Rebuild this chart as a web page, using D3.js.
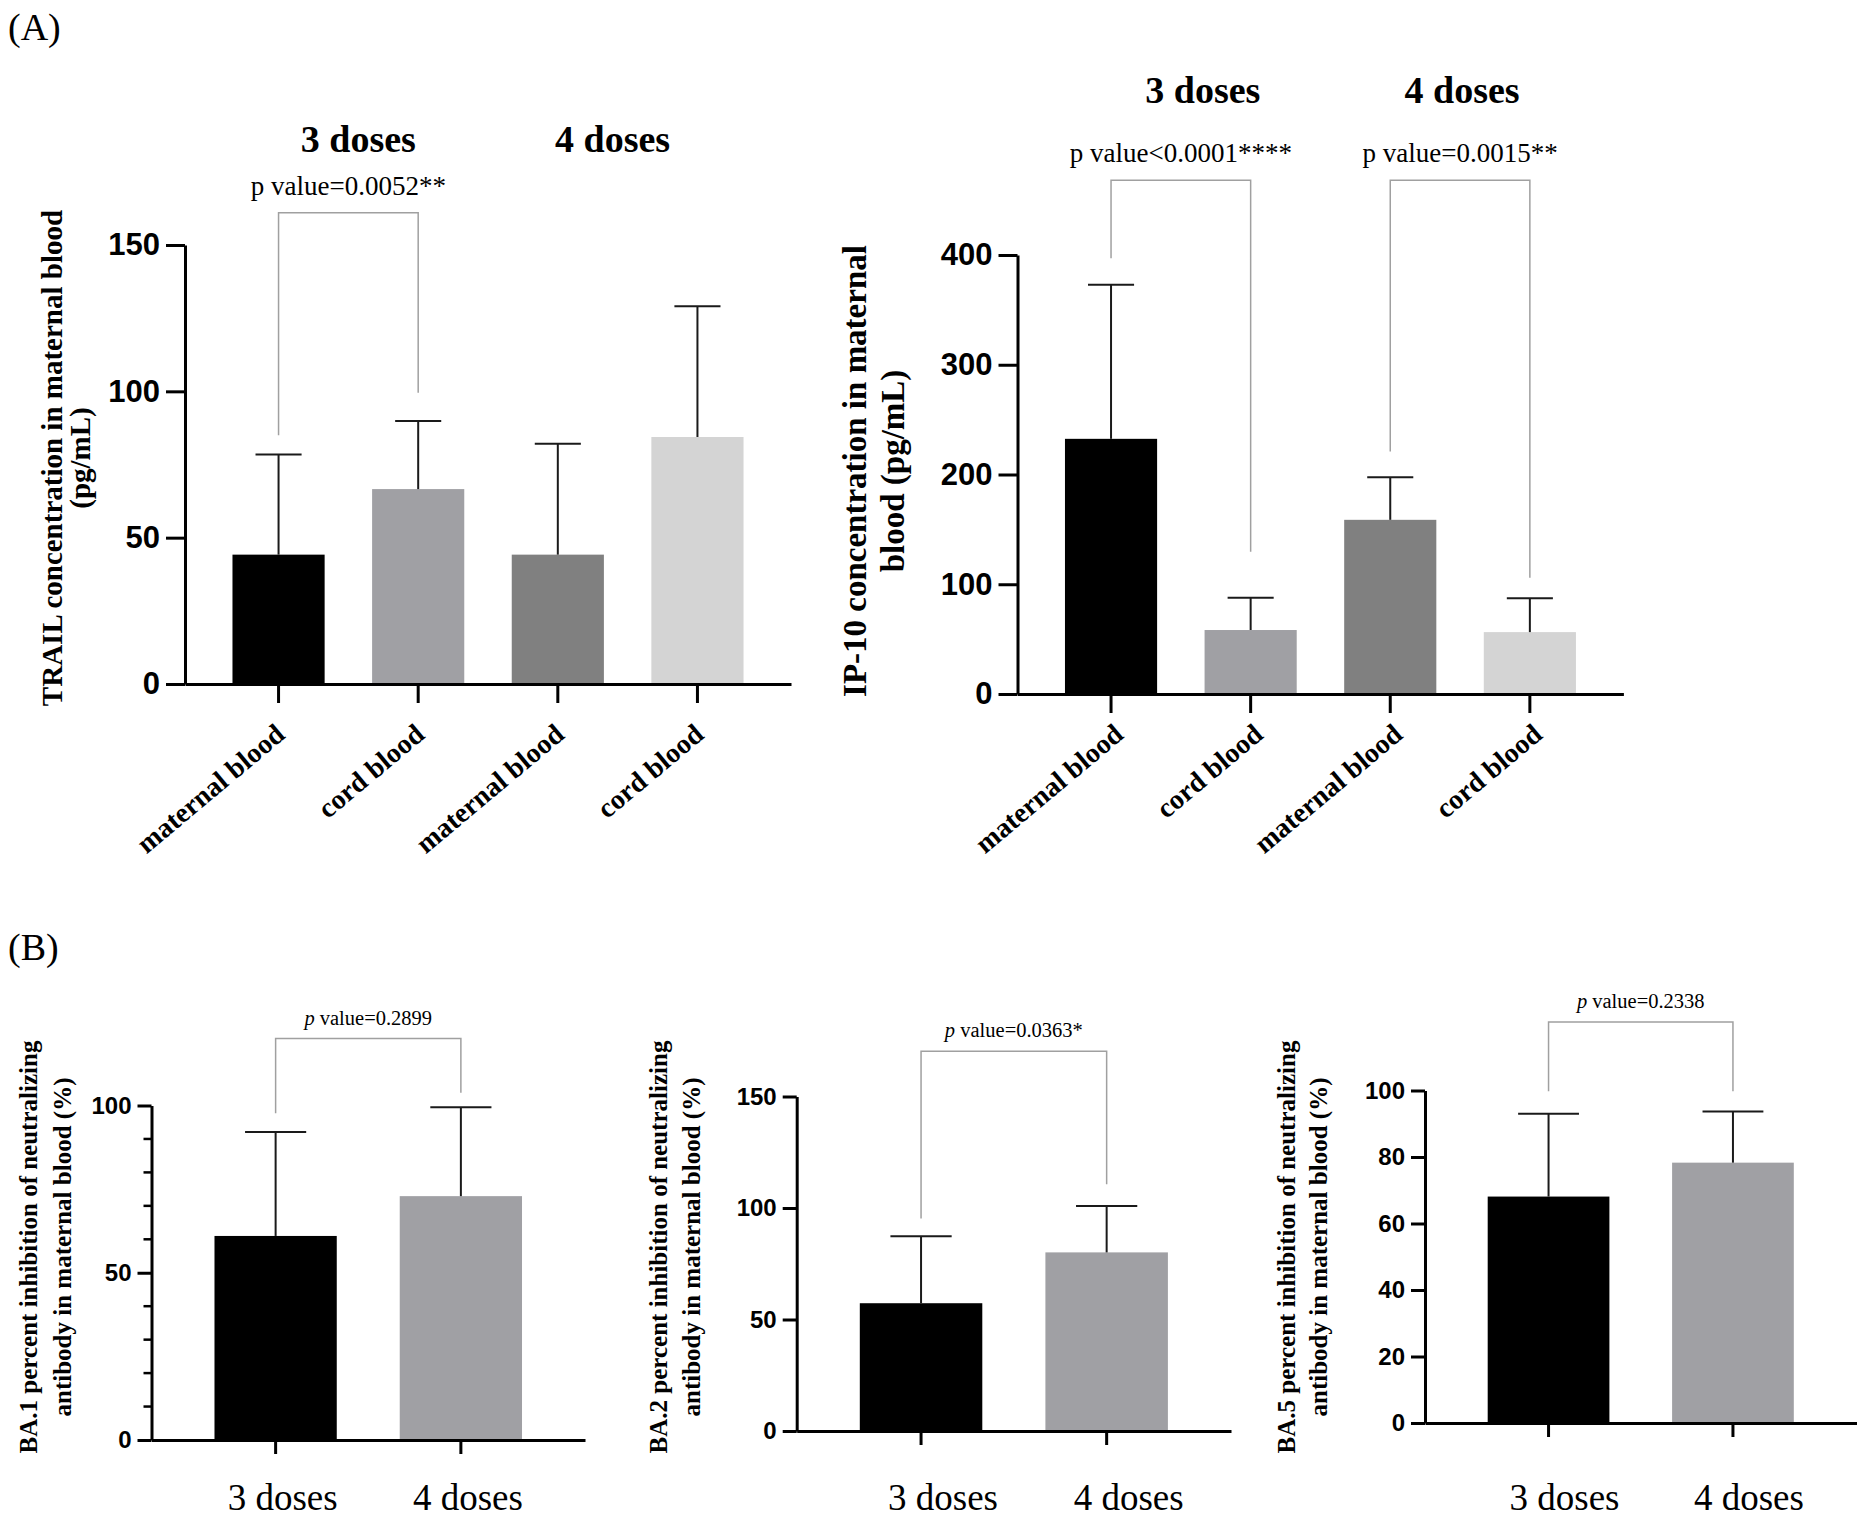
<!DOCTYPE html>
<html>
<head>
<meta charset="utf-8">
<script src="https://cdn.jsdelivr.net/npm/d3@7"></script>
<style>
  body { margin: 0; background: #fff; }
  svg { display: block; }
</style>
</head>
<body>
<div id="chart"></div>
<script>
// ---- data ----
const aCategories = ['maternal blood', 'cord blood', 'maternal blood', 'cord blood'];
const doseGroups = ['3 doses', '4 doses'];
const aColors = ['#000000', '#a0a0a4', '#808080', '#d4d4d4'];
const bColors = ['#000000', '#a0a0a4'];

const trailMeans = [44.2, 66.6, 44.2, 84.4];
const trailSD = [34.2, 23.3, 37.9, 44.7];
const trailTicks = [0, 50, 100, 150];

const ip10Means = [232.5, 58.3, 158.7, 56.4];
const ip10SD = [140.5, 29.4, 38.7, 30.8];
const ip10Ticks = [0, 100, 200, 300, 400];

const ba1Means = [61.0, 72.9];
const ba1SD = [31.1, 26.6];
const ba1Ticks = [0, 50, 100];
const ba1Minor = [10, 20, 30, 40, 60, 70, 80, 90];

const ba2Means = [57.3, 80.1];
const ba2SD = [30.0, 20.8];
const ba2Ticks = [0, 50, 100, 150];

const ba5Means = [68.1, 78.3];
const ba5SD = [24.9, 15.4];
const ba5Ticks = [0, 20, 40, 60, 80, 100];

// brackets: bar a -> bar b, top value, leg end values, label
const trailBrackets = [{ a: 0, b: 1, top: 161, legA: 85, legB: 99.5, p: 'p value=0.0052**' }];
const ip10Brackets = [
    { a: 0, b: 1, top: 468, legA: 397, legB: 129.5, p: 'p value<0.0001****' },
    { a: 2, b: 3, top: 468, legA: 221, legB: 106, p: 'p value=0.0015**' }
];
const ba1Brackets = [{ a: 0, b: 1, top: 120, legA: 97.7, legB: 103.8, p: ' value=0.2899' }];
const ba2Brackets = [{ a: 0, b: 1, top: 170.3, legA: 95.3, legB: 110.6, p: ' value=0.0363*' }];
const ba5Brackets = [{ a: 0, b: 1, top: 120.6, legA: 99.8, legB: 99.8, p: ' value=0.2338' }];

const SERIF = '"Liberation Serif", "Times New Roman", serif';
const SANS = '"Liberation Sans", Arial, sans-serif';

const svg = d3.select('#chart').append('svg')
    .attr('width', 1871)
    .attr('height', 1525);

svg.append('rect').attr('width', 1871).attr('height', 1525).attr('fill', '#fff');

function drawChart(cfg) {
    const g = svg.append('g');
    const n = cfg.means.length;

    const x = d3.scaleBand()
        .domain(d3.range(n))
        .range([cfg.left, cfg.right])
        .paddingInner(0.34)
        .paddingOuter(0.34);
    const y = d3.scaleLinear()
        .domain([0, cfg.max])
        .range([cfg.bottom, cfg.top]);
    const cx = i => x(i) + x.bandwidth() / 2;

    // bars
    g.selectAll('rect.bar')
        .data(cfg.means)
        .join('rect')
        .attr('class', 'bar')
        .attr('x', (d, i) => x(i))
        .attr('y', d => y(d))
        .attr('width', x.bandwidth())
        .attr('height', d => y(0) - y(d))
        .attr('fill', (d, i) => cfg.colors[i]);

    // error bars (upper only)
    const eb = g.selectAll('g.err')
        .data(cfg.means.map((m, i) => ({ m, sd: cfg.sd[i], i })))
        .join('g')
        .attr('class', 'err')
        .attr('stroke', '#1a1a1a')
        .attr('stroke-width', 2);
    eb.append('line')
        .attr('x1', d => cx(d.i)).attr('x2', d => cx(d.i))
        .attr('y1', d => y(d.m)).attr('y2', d => y(d.m + d.sd));
    eb.append('line')
        .attr('x1', d => cx(d.i) - x.bandwidth() / 4).attr('x2', d => cx(d.i) + x.bandwidth() / 4)
        .attr('y1', d => y(d.m + d.sd)).attr('y2', d => y(d.m + d.sd));

    // y axis
    const yAxis = d3.axisLeft(y)
        .tickValues(cfg.ticks)
        .tickSize(cfg.tickLen)
        .tickSizeOuter(0)
        .tickPadding(6);
    const ya = g.append('g')
        .attr('transform', `translate(${cfg.left},0)`)
        .call(yAxis);
    ya.select('.domain').attr('stroke', '#000').attr('stroke-width', 3);
    ya.selectAll('.tick line').attr('stroke', '#000').attr('stroke-width', 3);
    ya.selectAll('.tick text')
        .attr('fill', '#000')
        .attr('font-family', SANS)
        .attr('font-weight', 'bold')
        .attr('font-size', cfg.tickFont);

    if (cfg.minor) {
        g.selectAll('line.minor')
            .data(cfg.minor)
            .join('line')
            .attr('class', 'minor')
            .attr('x1', cfg.left - 8).attr('x2', cfg.left)
            .attr('y1', d => y(d)).attr('y2', d => y(d))
            .attr('stroke', '#000').attr('stroke-width', 2.5);
    }

    // x axis
    const xAxis = d3.axisBottom(x)
        .tickSize(cfg.tickLen)
        .tickSizeOuter(0)
        .tickFormat('');
    const xa = g.append('g')
        .attr('transform', `translate(0,${y(0)})`)
        .call(xAxis);
    xa.select('.domain').attr('stroke', '#000').attr('stroke-width', 3);
    xa.selectAll('.tick line').attr('stroke', '#000').attr('stroke-width', 3);

    // category labels
    if (cfg.rotated) {
        g.selectAll('text.cat')
            .data(cfg.categories)
            .join('text')
            .attr('class', 'cat')
            .attr('transform', (d, i) => `translate(${cx(i) + cfg.catDx},${y(0) + cfg.catDy}) rotate(-40)`)
            .attr('text-anchor', 'end')
            .attr('font-family', SERIF)
            .attr('font-weight', 'bold')
            .attr('font-size', cfg.catFont)
            .text(d => d);
    } else {
        g.selectAll('text.cat')
            .data(cfg.categories)
            .join('text')
            .attr('class', 'cat')
            .attr('x', (d, i) => cx(i) + cfg.catDx)
            .attr('y', cfg.catY)
            .attr('text-anchor', 'middle')
            .attr('font-family', SERIF)
            .attr('font-size', cfg.catFont)
            .text(d => d);
    }

    // y title (two lines, rotated)
    cfg.title.forEach((line, k) => {
        g.append('text')
            .attr('transform', `translate(${cfg.titleX[k]},${cfg.titleY}) rotate(-90)`)
            .attr('text-anchor', 'middle')
            .attr('font-family', SERIF)
            .attr('font-weight', 'bold')
            .attr('font-size', cfg.titleFont)
            .text(line);
    });

    // dose headers
    if (cfg.headers) {
        cfg.headers.forEach((h, k) => {
            g.append('text')
                .attr('x', (cx(2 * k) + cx(2 * k + 1)) / 2 + cfg.headerDx[k])
                .attr('y', cfg.headerY)
                .attr('text-anchor', 'middle')
                .attr('font-family', SERIF)
                .attr('font-weight', 'bold')
                .attr('font-size', 38)
                .text(h);
        });
    }

    // significance brackets
    cfg.brackets.forEach(b => {
        g.append('path')
            .attr('d', `M${cx(b.a)},${y(b.legA)}V${y(b.top)}H${cx(b.b)}V${y(b.legB)}`)
            .attr('fill', 'none')
            .attr('stroke', '#a0a0a0')
            .attr('stroke-width', 1.5);
        const t = g.append('text')
            .attr('x', (cx(b.a) + cx(b.b)) / 2)
            .attr('y', y(b.top) - cfg.pGap)
            .attr('text-anchor', 'middle')
            .attr('font-family', SERIF)
            .attr('font-size', cfg.pFont);
        if (cfg.italicP) {
            t.append('tspan').attr('font-style', 'italic').text('p');
            t.append('tspan').text(b.p);
        } else {
            t.text(b.p);
        }
    });
}

// ---- panel A ----
drawChart({
    means: trailMeans, sd: trailSD, colors: aColors, categories: aCategories,
    ticks: trailTicks, max: 150,
    left: 185, right: 791, top: 245, bottom: 684,
    tickLen: 19, tickFont: 31,
    rotated: true, catDx: 8, catDy: 53, catFont: 28,
    title: ['TRAIL concentration in maternal blood', '(pg/mL)'],
    titleX: [62, 90], titleY: 458, titleFont: 29,
    headers: doseGroups, headerDx: [10, -15], headerY: 152,
    brackets: trailBrackets, pGap: 18, pFont: 27
});

drawChart({
    means: ip10Means, sd: ip10SD, colors: aColors, categories: aCategories,
    ticks: ip10Ticks, max: 400,
    left: 1017.5, right: 1623.4, top: 255, bottom: 694,
    tickLen: 19, tickFont: 31,
    rotated: true, catDx: 14, catDy: 43, catFont: 28,
    title: ['IP-10 concentration in maternal', 'blood (pg/mL)'],
    titleX: [866, 904], titleY: 471, titleFont: 33,
    headers: doseGroups, headerDx: [22, 2], headerY: 103,
    brackets: ip10Brackets, pGap: 18, pFont: 27
});

// ---- panel B ----
drawChart({
    means: ba1Means, sd: ba1SD, colors: bColors, categories: doseGroups,
    ticks: ba1Ticks, minor: ba1Minor, max: 100,
    left: 151.5, right: 585, top: 1105.5, bottom: 1440,
    tickLen: 14, tickFont: 24,
    rotated: false, catDx: 7, catY: 1510, catFont: 37,
    title: ['BA.1 percent inhibition of neutralizing', 'antibody in maternal blood (%)'],
    titleX: [37, 71], titleY: 1247, titleFont: 25,
    brackets: ba1Brackets, pGap: 14, pFont: 20.5, italicP: true
});

drawChart({
    means: ba2Means, sd: ba2SD, colors: bColors, categories: doseGroups,
    ticks: ba2Ticks, max: 150,
    left: 796.7, right: 1231, top: 1096.5, bottom: 1431,
    tickLen: 14, tickFont: 24,
    rotated: false, catDx: 22, catY: 1510, catFont: 37,
    title: ['BA.2 percent inhibition of neutralizing', 'antibody in maternal blood (%)'],
    titleX: [667, 700], titleY: 1247, titleFont: 25,
    brackets: ba2Brackets, pGap: 14, pFont: 20.5, italicP: true
});

drawChart({
    means: ba5Means, sd: ba5SD, colors: bColors, categories: doseGroups,
    ticks: ba5Ticks, max: 100,
    left: 1425, right: 1856.5, top: 1090.5, bottom: 1423,
    tickLen: 14, tickFont: 24,
    rotated: false, catDx: 16, catY: 1510, catFont: 37,
    title: ['BA.5 percent inhibition of neutralizing', 'antibody in maternal blood (%)'],
    titleX: [1295, 1327], titleY: 1247, titleFont: 25,
    brackets: ba5Brackets, pGap: 14, pFont: 20.5, italicP: true
});

// panel letters
svg.append('text').attr('x', 8).attr('y', 40)
    .attr('font-family', SERIF).attr('font-size', 38).text('(A)');
svg.append('text').attr('x', 8).attr('y', 960)
    .attr('font-family', SERIF).attr('font-size', 38).text('(B)');
</script>
</body>
</html>
